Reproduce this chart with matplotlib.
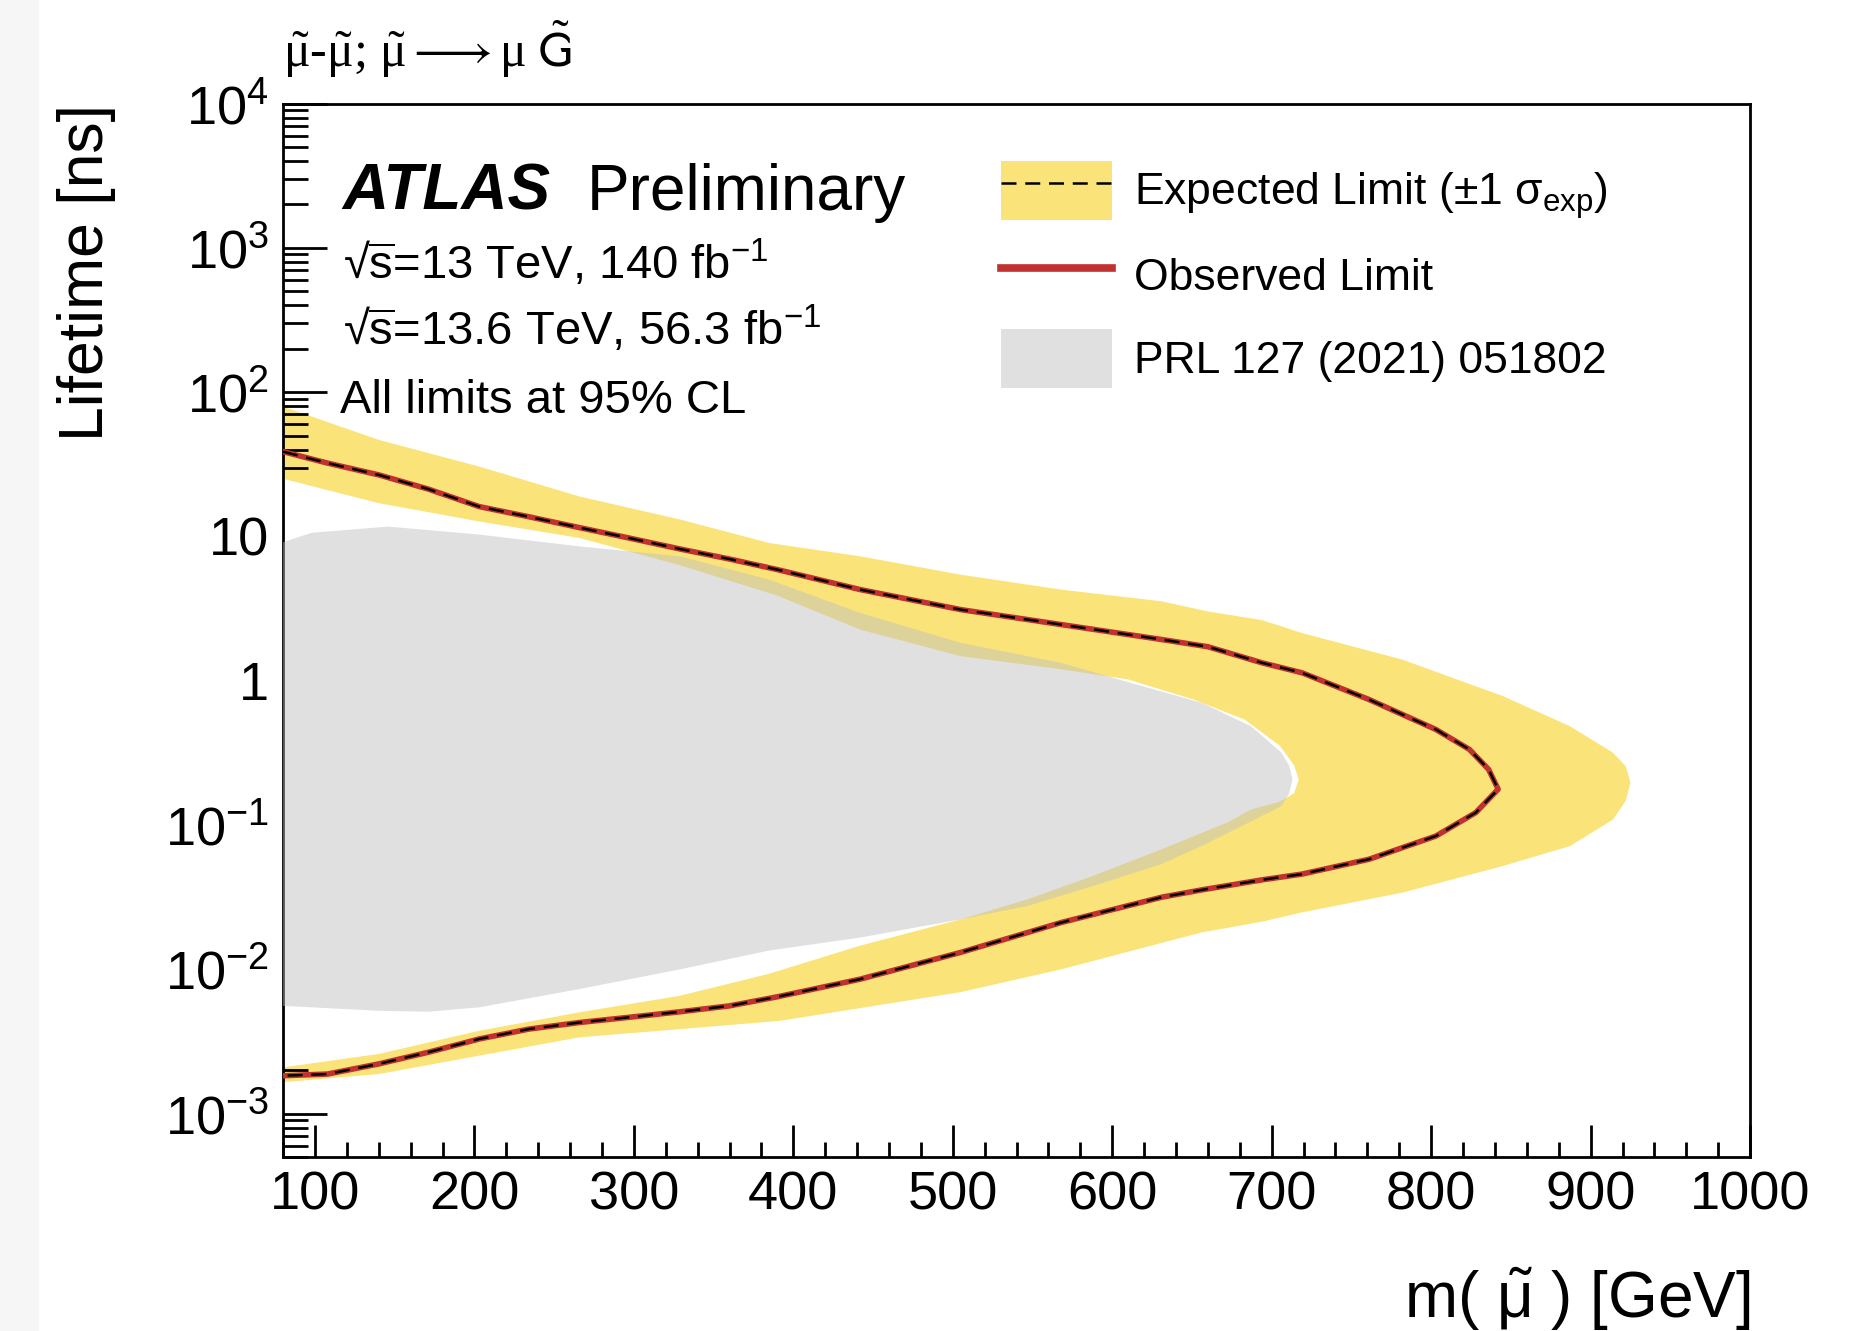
import numpy as np
import matplotlib
matplotlib.use("Agg")
import matplotlib.pyplot as plt
from matplotlib.patches import Patch, Rectangle
from matplotlib.lines import Line2D
from matplotlib.ticker import MultipleLocator, LogLocator, NullFormatter, FuncFormatter

plt.rcParams['font.family'] = ['Liberation Sans', 'DejaVu Sans']
plt.rcParams['mathtext.fontset'] = 'custom'
plt.rcParams['mathtext.rm'] = 'Liberation Sans'
plt.rcParams['mathtext.it'] = 'Liberation Sans:italic'
plt.rcParams['mathtext.bf'] = 'Liberation Sans:bold'
plt.rcParams['mathtext.sf'] = 'Liberation Sans'
plt.rcParams['mathtext.default'] = 'regular'
plt.rcParams['mathtext.fallback'] = 'stixsans'

# observed limit contour (upper branch out to the nose, then lower branch back), m [GeV], tau [ns]
obs_mass = [80, 108, 140, 171, 203, 234, 266, 297, 329, 360, 390, 442, 505, 568, 631, 660,
            694, 719, 761, 803, 824, 836, 842, 836, 828, 803, 761, 719, 694, 656, 631, 568,
            505, 442, 390, 360, 329, 297, 266, 234, 203, 171, 140, 108, 80]
obs_life = [38.7, 32.2, 26.7, 21.3, 16.1, 13.7, 11.5, 9.75, 8.18, 6.97, 5.89, 4.28, 3.11, 2.45,
            1.93, 1.72, 1.33, 1.135, 0.741, 0.459, 0.334, 0.243, 0.177, 0.151, 0.122, 0.0839,
            0.0579, 0.0457, 0.0417, 0.0355, 0.0316, 0.0211, 0.0131, 0.00855, 0.00645, 0.00558,
            0.00508, 0.00465, 0.00428, 0.00385, 0.00329, 0.00266, 0.00221, 0.00188, 0.00183]

# expected median sits right on top of the observed line
exp_mass = list(obs_mass)
exp_life = list(obs_life)

# +1 sigma_exp contour (outer edge of yellow band)
band_hi_mass = [80, 140, 203, 266, 329, 385, 442, 505, 568, 631, 660, 694, 719, 782, 845, 887,
                914, 922, 925, 922, 914, 887, 845, 782, 719, 694, 656, 568, 505, 392, 329, 266,
                203, 140, 80]
band_hi_life = [79.4, 46.7, 30.5, 18.9, 13.1, 9.0, 7.28, 5.43, 4.28, 3.55, 3.02, 2.63, 2.14, 1.40,
                0.782, 0.484, 0.317, 0.256, 0.196, 0.147, 0.109, 0.0714, 0.052, 0.034, 0.0248,
                0.0214, 0.018, 0.0100, 0.00695, 0.0044, 0.00385, 0.00338, 0.00252, 0.00188,
                0.00165]

# -1 sigma_exp contour (inner edge of yellow band)
band_lo_mass = [80, 140, 203, 266, 329, 390, 442, 505, 568, 610, 651, 683, 705, 714, 717, 714,
                705, 687, 673, 631, 588, 547, 505, 442, 385, 329, 266, 203, 140, 80]
band_lo_life = [25.1, 17.0, 12.7, 9.75, 6.31, 3.89, 2.26, 1.48, 1.20, 1.02, 0.741, 0.538, 0.355,
                0.26, 0.207, 0.166, 0.145, 0.128, 0.105, 0.0679, 0.0444, 0.0306, 0.0222, 0.0146,
                0.00933, 0.00656, 0.00504, 0.00375, 0.00259, 0.00209]

# previous result, PRL 127 (2021) 051802
prl_mass = [80, 98, 146, 203, 266, 329, 385, 442, 505, 568, 610, 656, 687, 706, 711, 713, 711,
            706, 690, 656, 631, 588, 547, 505, 442, 385, 329, 266, 203, 171, 140, 80]
prl_life = [9.12, 10.6, 11.7, 10.3, 8.53, 7.28, 5.01, 2.95, 1.83, 1.33, 0.977, 0.703, 0.484,
            0.318, 0.257, 0.207, 0.166, 0.135, 0.11, 0.0714, 0.0537, 0.0378, 0.0275, 0.0222,
            0.0166, 0.0135, 0.0100, 0.0073, 0.00545, 0.00508, 0.00516, 0.00558]

legend_labels = [r'Expected Limit ($\pm$1 $\sigma_{\mathrm{exp}}$)', 'Observed Limit',
                 'PRL 127 (2021) 051802']

yellow = '#fae47a'
red = '#c0322f'
prl_grey = '#bebebe'

fig = plt.figure(figsize=(18.5, 13.31), dpi=100)
fig.patches.append(Rectangle((0, 0), 38 / 1850, 1, transform=fig.transFigure,
                             color='#f6f6f6', zorder=-1))
ax = fig.add_axes([0.153, 0.1307, 0.793, 0.7915])
ax.set_yscale('log')

ax.fill(band_hi_mass, band_hi_life, color=yellow, lw=0, zorder=1)
ax.fill(band_lo_mass, band_lo_life, color='white', lw=0, zorder=2)
ax.fill(prl_mass, prl_life, color=prl_grey, alpha=0.47, lw=0, zorder=3)
ax.plot(obs_mass, obs_life, color=red, lw=4, zorder=4, solid_joinstyle='round')
ax.plot(exp_mass, exp_life, color='k', lw=1.8, dashes=(6, 3.5), zorder=5)

ax.set_xlim(80, 1000)
ax.set_ylim(5e-4, 1e4)

ax.xaxis.set_major_locator(MultipleLocator(100))
ax.xaxis.set_minor_locator(MultipleLocator(20))
ax.yaxis.set_major_locator(LogLocator(base=10, numticks=20))
ax.yaxis.set_minor_locator(LogLocator(base=10, subs=np.arange(2, 10), numticks=20))
ax.yaxis.set_minor_formatter(NullFormatter())


def ylab(v, pos):
    e = int(round(np.log10(v)))
    if e == 0:
        return '1'
    if e == 1:
        return '10'
    return r'$10^{%d}$' % e


ax.yaxis.set_major_formatter(FuncFormatter(ylab))

ax.tick_params(which='both', direction='in', top=False, right=False, width=2)
ax.tick_params(axis='x', which='major', length=23, labelsize=39, pad=10)
ax.tick_params(axis='x', which='minor', length=11)
ax.tick_params(axis='y', which='major', length=32, labelsize=39, pad=10)
ax.tick_params(axis='y', which='minor', length=18)
for s in ax.spines.values():
    s.set_linewidth(2)

ax.set_ylabel('Lifetime [ns]', fontsize=45, loc='top')
ax.yaxis.set_label_coords(-0.114, 1.0)
ax.set_xlabel(r'm( $\tilde{\mu}$ ) [GeV]', fontsize=46, loc='right')
ax.xaxis.set_label_coords(1.0, -0.103)

fig.text(283 / 1850, 1 - 67 / 1331,
         r'$\tilde{\mu}$-$\tilde{\mu}$; $\tilde{\mu} \longrightarrow \mu$ $\tilde{\mathsf{G}}$',
         fontsize=36, ha='left', va='baseline', math_fontfamily='stix',
         family=['Liberation Serif', 'DejaVu Serif'])

fig.text(342 / 1850, 1 - 210 / 1331, 'ATLAS', fontsize=46, weight='bold', style='italic',
         va='baseline')
fig.text(587 / 1850, 1 - 210 / 1331, 'Preliminary', fontsize=46, va='baseline')
fig.text(343 / 1850, 1 - 279 / 1331, r'√$\overline{\mathrm{s}}$=13 TeV, 140 fb$^{-1}$',
         fontsize=34, va='baseline')
fig.text(343 / 1850, 1 - 345 / 1331, r'√$\overline{\mathrm{s}}$=13.6 TeV, 56.3 fb$^{-1}$',
         fontsize=34, va='baseline')
fig.text(340 / 1850, 1 - 413 / 1331, 'All limits at 95% CL', fontsize=34, va='baseline')

h_exp = (Patch(facecolor=yellow, edgecolor='none'),
         Line2D([], [], color='k', lw=1.8, dashes=(6, 3.5)))
h_obs = Line2D([], [], color=red, lw=5.5)
h_prl = Patch(facecolor=prl_grey, alpha=0.47, edgecolor='none')
ax.legend([h_exp, h_obs, h_prl], legend_labels, loc='upper left',
          bbox_to_anchor=(1001 / 1850, 1 - 161 / 1331), bbox_transform=fig.transFigure,
          frameon=False, fontsize=32, handlelength=2.5, handleheight=1.67,
          handletextpad=0.5, labelspacing=0.55, borderpad=0, borderaxespad=0)

fig.savefig('out.png', dpi=100)
